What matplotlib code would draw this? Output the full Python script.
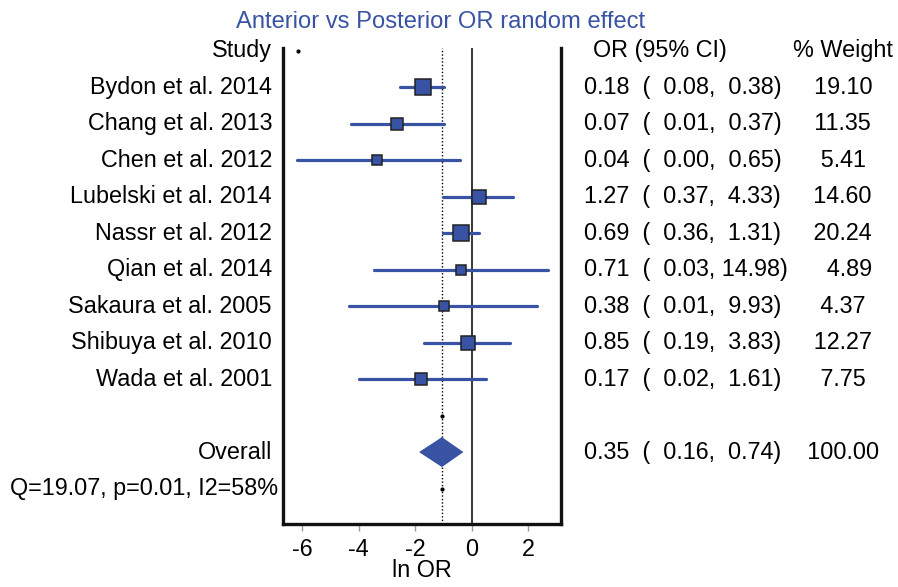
import matplotlib
matplotlib.use("Agg")
import matplotlib.pyplot as plt
from matplotlib.transforms import blended_transform_factory
from matplotlib.patches import Polygon

plt.rcParams['font.family'] = ['Liberation Sans', 'DejaVu Sans']
plt.rcParams['axes.unicode_minus'] = False

# ---- data ----
studies = ["Bydon et al. 2014", "Chang et al. 2013", "Chen et al. 2012",
           "Lubelski et al. 2014", "Nassr et al. 2012", "Qian et al. 2014",
           "Sakaura et al. 2005", "Shibuya et al. 2010", "Wada et al. 2001"]
or_vals = [0.18, 0.07, 0.04, 1.27, 0.69, 0.71, 0.38, 0.85, 0.17]
or_lo = [0.08, 0.01, 0.00, 0.37, 0.36, 0.03, 0.01, 0.19, 0.02]
or_hi = [0.38, 0.37, 0.65, 4.33, 1.31, 14.98, 9.93, 3.83, 1.61]
weights = [19.10, 11.35, 5.41, 14.60, 20.24, 4.89, 4.37, 12.27, 7.75]
ln_or = [-1.71, -2.63, -3.33, 0.25, -0.37, -0.37, -0.98, -0.14, -1.79]
ln_lo = [-2.53, -4.27, -6.18, -1.02, -1.02, -3.46, -4.32, -1.68, -4.00]
ln_hi = [-0.97, -0.97, -0.40, 1.47, 0.27, 2.71, 2.30, 1.37, 0.50]

overall_or = 0.35
overall_lo = 0.16
overall_hi = 0.74
overall_w = 100.00
overall_ln = -1.05
overall_ln_lo = -1.86
overall_ln_hi = -0.29

het_text = "Q=19.07, p=0.01, I2=58%"
title = "Anterior vs Posterior OR random effect"
xticks = [-6, -4, -2, 0, 2]

# ---- styling ----
BLUE = "#3953a4"
FS = 16.8
W, H = 898, 587

fig = plt.figure(figsize=(W / 100, H / 100), dpi=100)
ax = fig.add_axes([283 / W, 1 - 524 / H, (561 - 283) / W, (524 - 48) / H])

n = len(studies)
rows = list(range(1, n + 1))
overall_row = n + 2
het_row = n + 3

ax.set_xlim(-6.67, 3.16)
ax.set_ylim(12.97, -0.07)

# reference lines
ax.axvline(0, color="black", lw=1.1, zorder=1)
ax.axvline(overall_ln, color="black", lw=1.0, ls=(0, (1, 1.5)), zorder=1)

# studies
for r, m, lo, hi, w in zip(rows, ln_or, ln_lo, ln_hi, weights):
    ax.plot([lo, hi], [r, r], color=BLUE, lw=2.3, solid_capstyle="round", zorder=2)
    size_px = 8 + 0.42 * w
    ax.plot([m], [r], marker="s", ms=size_px * 0.72, mfc=BLUE, mec="#222222",
            mew=1.1, zorder=3)

# overall diamond
h = 0.41
diamond = Polygon([[overall_ln_lo, overall_row], [overall_ln, overall_row - h],
                   [overall_ln_hi, overall_row], [overall_ln, overall_row + h]],
                  closed=True, facecolor=BLUE, edgecolor="none", zorder=3)
ax.add_patch(diamond)

# small dots
ax.plot([overall_ln, overall_ln], [n + 1, het_row], ls="none", marker="o",
        ms=2, color="black", zorder=4)
ax.plot([-6.15], [0], ls="none", marker="o", ms=2, color="black", zorder=4)

# spines
for s in ["left", "right", "bottom"]:
    ax.spines[s].set_linewidth(2.4)
    ax.spines[s].set_color("#111111")
ax.spines["top"].set_visible(False)

ax.set_yticks([])
ax.set_xticks(xticks)
ax.set_xticklabels([str(t) for t in xticks])
ax.tick_params(axis="x", length=5, width=1.0, color="#999999", labelsize=FS, pad=5)
ax.set_xlabel("ln OR", fontsize=FS, labelpad=-1.5)

# text columns
tr = blended_transform_factory(fig.transFigure, ax.transData)
x_lab = 272 / W
x_or = 584 / W

ax.text(x_lab, 0, "Study", transform=tr, ha="right", va="center", fontsize=FS)
ax.text(593 / W, 0, "OR (95% CI)", transform=tr, ha="left", va="center", fontsize=FS)
ax.text(793 / W, 0, "% Weight", transform=tr, ha="left", va="center", fontsize=FS)

for r, s, o, lo, hi, w in zip(rows, studies, or_vals, or_lo, or_hi, weights):
    ax.text(x_lab, r, s, transform=tr, ha="right", va="center", fontsize=FS)
    line = f"{o:.2f}  ( {lo:5.2f}, {hi:5.2f})     {w:5.2f}"
    ax.text(x_or, r, line, transform=tr, ha="left", va="center", fontsize=FS)

ax.text(x_lab, overall_row, "Overall", transform=tr, ha="right", va="center", fontsize=FS)
ov_line = f"{overall_or:.2f}  ( {overall_lo:5.2f}, {overall_hi:5.2f})    {overall_w:5.2f}"
ax.text(x_or, overall_row, ov_line, transform=tr, ha="left", va="center", fontsize=FS)
ax.text(278 / W, het_row, het_text, transform=tr, ha="right", va="center", fontsize=FS)

fig.text(441 / W, 1 - 22 / H, title, ha="center", va="center", fontsize=17.1, color=BLUE)

fig.savefig("out.png", dpi=100)
